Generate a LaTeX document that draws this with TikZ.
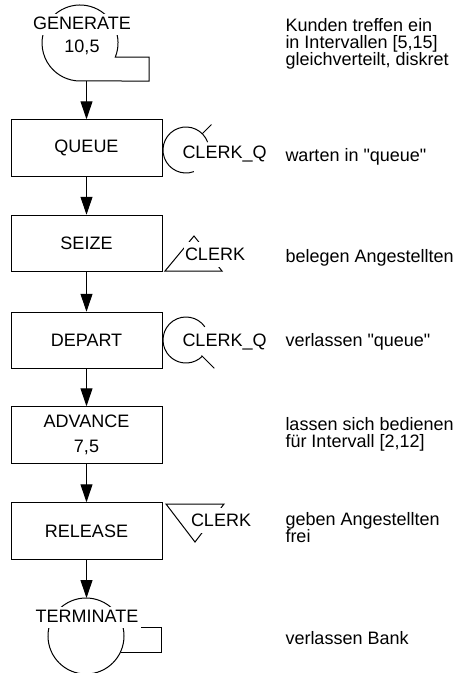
\documentclass[tikz,border=0pt]{standalone}
\usepackage{fontspec}
\setmainfont{Liberation Sans}
\usetikzlibrary{arrows.meta}

\begin{document}
\begin{tikzpicture}[x=1pt,y=-1pt,line width=1pt,
  block/.style={draw, minimum width=151pt, minimum height=56.5pt, inner sep=0pt,
    font=\fontsize{18}{25}\selectfont, align=center},
  flow/.style={-{Triangle[length=18pt,width=12pt]}},
  lbl/.style={font=\fontsize{18}{21.6}\selectfont, inner sep=0pt},
  cover/.style={fill=white, inner xsep=3pt, inner ysep=2pt, text height=13pt,
    text depth=4pt, font=\fontsize{18}{21.6}\selectfont},
  tag/.style={fill=white, inner xsep=1pt, inner ysep=3pt, text height=15pt,
    text depth=4pt, font=\fontsize{18}{21.6}\selectfont},
  note/.style={font=\fontsize{18}{17}\selectfont, align=left, inner sep=0pt},
]
\useasboundingbox (0,0) rectangle (462,673);

% ---- GENERATE: circle with a square lower right corner
\draw (115.3,57.1) arc[start angle=21.8, end angle=-270, radius=38]
      -- (149,81) -- (149,57) -- cycle;
\node[cover, anchor=base] (gen) at (82,29) {GENERATE};
\node[lbl, anchor=base] (genarg) at (82,52) {10,5};
\coordinate (gen-out) at (86.5,81);

% ---- blocks
\node[block] (queue)   at (86.5,148)   {QUEUE};
\node[block] (seize)   at (86.5,243.5) {SEIZE};
\node[block] (depart)  at (86.5,340.5) {DEPART};
\node[block] (advance) at (86.5,435)   {ADVANCE\\7,5};
\node[block] (release) at (86.5,531)   {RELEASE};

% ---- TERMINATE: circle with a box on its right
\draw (86,636) circle[radius=38];
\draw (122.9,627) -- (161,627) -- (161,652) -- (120.5,652);
\node[cover, anchor=base] (term) at (87,622) {TERMINATE};
\coordinate (term-in) at (86.5,598);

% ---- queue symbols (CLERK_Q)
\draw (186,150) ++(-20:23) arc[start angle=-20, end angle=-290, radius=23];
\draw (186,150) ++(-45:23) -- ++(-45:13);
\node[lbl, anchor=base west] (qin) at (182,158.5) {CLERK\_Q};

\draw (186,340) ++(-35:23) arc[start angle=-35, end angle=-315, radius=23];
\draw (186,340) ++(45:22) -- ++(45:18);
\node[lbl, anchor=base west] (qout) at (182,346.5) {CLERK\_Q};

% ---- facility symbols (CLERK)
\draw (194,236) -- (222,271) -- (165,271) -- cycle;
\node[tag, anchor=base west] (fin) at (183.5,260) {CLERK};

\draw (166,504) -- (224,504) -- (195,542) -- cycle;
\node[tag, anchor=base west] (fout) at (189.5,526) {CLERK};

% ---- flow of transactions
\draw[flow] (gen-out) -- (queue.north);
\draw[flow] (queue) -- (seize);
\draw[flow] (seize) -- (depart);
\draw[flow] (depart) -- (advance);
\draw[flow] (advance) -- (release);
\draw[flow] (release) -- (term-in);

% ---- comments column
\node[note, anchor=west] (c1) at (285,43.4)
  {Kunden treffen ein\\in Intervallen [5,15]\\gleichverteilt, diskret};
\node[note, anchor=base west] (c2) at (285,161) {warten in \textquotedbl queue\textquotedbl};
\node[note, anchor=base west] (c3) at (285,262) {belegen Angestellten};
\node[note, anchor=base west] (c4) at (285,346) {verlassen \textquotedbl queue\textquotedbl};
\node[note, anchor=west] (c5) at (285,433.9)
  {lassen sich bedienen\\für Intervall [2,12]};
\node[note, anchor=west] (c6) at (285,528)
  {geben Angestellten\\frei};
\node[note, anchor=base west] (c7) at (285,644) {verlassen Bank};
\end{tikzpicture}
\end{document}
